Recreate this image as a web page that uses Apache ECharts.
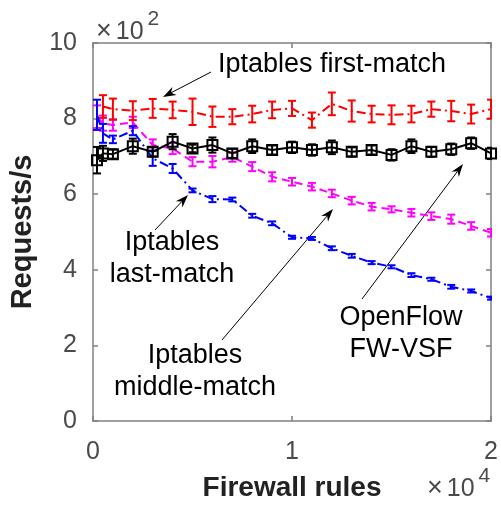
<!DOCTYPE html>
<html><head><meta charset="utf-8">
<script src="https://cdn.jsdelivr.net/npm/echarts@6/dist/echarts.min.js"></script>
<style>html,body{margin:0;padding:0;background:#fff}#c{width:501px;height:507px}</style>
</head><body><div id="c"></div><script>
// Firewall rules (x)
const rules = [200,500,1000,2000,3000,4000,5000,6000,7000,8000,9000,10000,11000,12000,13000,14000,15000,16000,17000,18000,19000,20000];
// Requests/s
const firstMatch    = [null,832,825,821,827,823,818,805,805,812,823,827,796,839,820,812,810,812,825,820,812,825];
const firstMatchErr = [null,30,28,25,25,22,35,27,20,22,22,20,20,30,28,22,25,22,20,27,25,25];
const openflow      = [690,708,706,727,712,739,721,730,708,727,717,724,717,724,712,717,704,727,712,719,735,708];
const openflowErr   = [35,20,12,20,12,20,10,20,12,18,12,15,15,18,12,12,15,18,13,15,15,15];
const lastMatch     = [810,761,745,768,695,668,610,587,586,543,523,486,483,457,437,419,408,386,375,355,344,325];
const lastMatchErr  = [40,25,10,12,20,12,5,8,5,5,5,4,4,5,5,4,4,5,4,5,4,4];
const middleMatch   = [805,788,783,790,730,721,686,686,698,673,646,633,620,602,583,567,560,551,542,534,516,498];
const middleMatchErr= [30,20,15,15,15,15,12,15,12,12,12,10,10,10,10,10,8,10,10,12,10,10];
const xTicks = [0,10000,20000];
const yTicks = [0,200,400,600,800,1000];

const chart = echarts.init(document.getElementById('c'), null, {renderer:'canvas'});

function pts(vals){ return rules.map((r,i)=> vals[i]==null ? null : [r, vals[i]]).filter(d=>d); }
function errData(vals, errs){ return rules.map((r,i)=> vals[i]==null ? null : [r, vals[i]-errs[i], vals[i]+errs[i]]).filter(d=>d); }

function errSeries(vals, errs, color, cap){
  return {
    type:'custom', xAxisIndex:0, yAxisIndex:0, z:3,
    data: errData(vals, errs),
    clip:true,
    renderItem:function(params, api){
      const lo = api.coord([api.value(0), api.value(1)]);
      const hi = api.coord([api.value(0), api.value(2)]);
      const st = {stroke:color, lineWidth:2};
      return {type:'group', children:[
        {type:'line', shape:{x1:lo[0],y1:lo[1],x2:hi[0],y2:hi[1]}, style:st},
        {type:'line', shape:{x1:lo[0]-cap,y1:lo[1],x2:lo[0]+cap,y2:lo[1]}, style:st},
        {type:'line', shape:{x1:hi[0]-cap,y1:hi[1],x2:hi[0]+cap,y2:hi[1]}, style:st}
      ]};
    }
  };
}
function lineSeries(vals, color, dash, extra){
  return Object.assign({
    type:'line', data: pts(vals), xAxisIndex:0, yAxisIndex:0, z:2,
    showSymbol:false, symbol:'none', animation:false, clip:true,
    lineStyle:{color:color, width:2, type:dash}
  }, extra||{});
}

function arrow(x1,y1,x2,y2){
  const a = Math.atan2(y2-y1, x2-x1);
  const L = 13, W = 4.5, N = 9;
  const bx = x2 - L*Math.cos(a), by = y2 - L*Math.sin(a);
  const nx = x2 - N*Math.cos(a), ny = y2 - N*Math.sin(a);
  const px = -Math.sin(a), py = Math.cos(a);
  return [
    {type:'line', shape:{x1:x1,y1:y1,x2:nx,y2:ny}, style:{stroke:'#000', lineWidth:1}},
    {type:'polygon', shape:{points:[[x2,y2],[bx+px*W,by+py*W],[nx,ny],[bx-px*W,by-py*W]]}, style:{fill:'#000'}}
  ];
}
const ff = '"Liberation Sans", Arial, sans-serif';
const annFont = '27px ' + ff;
function label(x,y,txt){
  return {type:'text', x:x, y:y, style:{text:txt, font:annFont, fill:'#000', align:'center', verticalAlign:'middle', lineHeight:32}};
}
const tickFont = {fontFamily:ff, fontSize:25, color:'#4a4a4a'};
const expRich = {
  x:{fontFamily:ff, fontSize:27, fill:'#4a4a4a', verticalAlign:'bottom', padding:[0,4,0,0]},
  a:{fontFamily:ff, fontSize:25, fill:'#4a4a4a', verticalAlign:'bottom'},
  b:{fontFamily:ff, fontSize:21, fill:'#4a4a4a', verticalAlign:'top', padding:[0,0,15,4]}
};

const option = {
  animation:false,
  backgroundColor:'#fff',
  grid:{left:93, right:2, top:43, bottom:86, containLabel:false},
  xAxis:[
    {type:'value', min:0, max:20000, interval:10000, position:'bottom',
     axisLine:{show:true, onZero:false, lineStyle:{color:'#808080', width:1.5}},
     axisTick:{show:true, inside:true, length:5, lineStyle:{color:'#808080', width:1.5}},
     axisLabel:Object.assign({margin:19, formatter:v=>String(v/10000), showMaxLabel:true}, tickFont),
     splitLine:{show:false},
     name:'Firewall rules', nameLocation:'middle', nameGap:53,
     nameTextStyle:{fontFamily:ff, fontSize:28, fontWeight:'bold', color:'#222'}},
    {type:'value', min:0, max:20000, interval:10000, position:'top',
     axisLine:{show:true, onZero:false, lineStyle:{color:'#808080', width:1.5}},
     axisTick:{show:true, inside:true, length:5, lineStyle:{color:'#808080', width:1.5}},
     axisLabel:{show:false}, splitLine:{show:false}}
  ],
  yAxis:[
    {type:'value', min:0, max:1000, interval:200, position:'left',
     axisLine:{show:true, onZero:false, lineStyle:{color:'#808080', width:1.5}},
     axisTick:{show:true, inside:true, length:5, lineStyle:{color:'#808080', width:1.5}},
     axisLabel:Object.assign({margin:16, formatter:v=>String(v/100)}, tickFont),
     splitLine:{show:false},
     name:'Requests/s', nameLocation:'middle', nameGap:56, nameRotate:90,
     nameTextStyle:{fontFamily:ff, fontSize:29, fontWeight:'bold', color:'#222'}},
    {type:'value', min:0, max:1000, interval:200, position:'right',
     axisLine:{show:true, onZero:false, lineStyle:{color:'#808080', width:1.5}},
     axisTick:{show:true, inside:true, length:5, lineStyle:{color:'#808080', width:1.5}},
     axisLabel:{show:false}, splitLine:{show:false}}
  ],
  series:[
    lineSeries(middleMatch, '#ff00ff', [8,5]),
    errSeries(middleMatch, middleMatchErr, '#ff00ff', 4),
    lineSeries(lastMatch, '#0000ff', [9,4,2,4]),
    errSeries(lastMatch, lastMatchErr, '#0000ff', 4),
    lineSeries(firstMatch, '#ff0000', [9,4,2,4]),
    errSeries(firstMatch, firstMatchErr, '#ff0000', 4),
    errSeries(openflow, openflowErr, '#000000', 4),
    lineSeries(openflow, '#000000', 'solid', {showSymbol:true, symbol:'rect', symbolSize:10, z:4,
      itemStyle:{color:'rgba(255,255,255,0)', borderColor:'#000', borderWidth:2}})
  ],
  graphic:[].concat(
    [ {type:'text', left:96, top:9, style:{text:'{x|×}{a|10}{b|2}', rich:expRich}},
      {type:'text', left:427, top:466, style:{text:'{x|×}{a|10}{b|4}', rich:expRich}},
      label(332,65,'Iptables first-match'),
      label(172,259,'Iptables\nlast-match'),
      label(195,372,'Iptables\nmiddle-match'),
      label(401,334,'OpenFlow\nFW-VSF')
    ],
    arrow(211,72,163,97),
    arrow(155,230,188,195),
    arrow(222,340,333,209),
    arrow(362,299,463,164)
  )
};
chart.setOption(option);
</script></body></html>
